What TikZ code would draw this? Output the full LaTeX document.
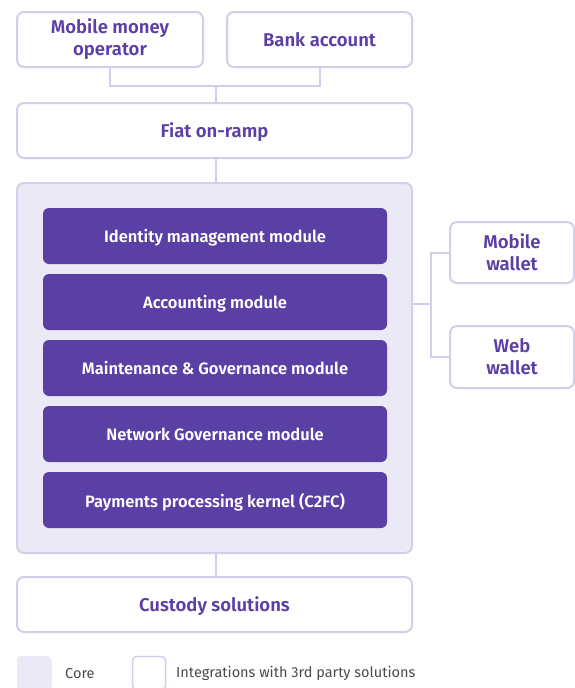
\documentclass[tikz,border=0pt]{standalone}
\usepackage{fontspec}
\setmainfont{Fira Sans}[BoldFont={Fira Sans SemiBold}]
\definecolor{bordc}{HTML}{D3CEEA}
\definecolor{corefill}{HTML}{ECE9F6}
\definecolor{modfill}{HTML}{5A3FA5}
\definecolor{txtc}{HTML}{5B3FA6}
\definecolor{legtxt}{HTML}{4A4A4A}
\begin{document}
\begin{tikzpicture}[x=1pt,y=-1pt,
  wbox/.style={draw=bordc,line width=2pt,fill=white,rounded corners=7pt,align=center,text=txtc,font=\fontsize{18.5}{22}\selectfont\bfseries,inner sep=0pt},
  oneline/.style={text depth=0pt},
  corebox/.style={draw=bordc,line width=2pt,fill=corefill,rounded corners=7pt,inner sep=0pt},
  modbox/.style={fill=modfill,rounded corners=6pt,text=white,font=\fontsize{16.5}{19}\selectfont\bfseries,minimum width=344pt,minimum height=56pt,inner sep=0pt,text depth=0pt},
  conn/.style={draw=bordc,line width=2pt},
  legtext/.style={text=legtxt,font=\fontsize{14.5}{17}\selectfont,anchor=west,inner sep=0pt}]
\useasboundingbox (0,0) rectangle (575,688);
% top boxes
\node[wbox,minimum width=186pt,minimum height=55pt] (mmo) at (110,39.5) {Mobile money\\operator};
\node[wbox,oneline,minimum width=185pt,minimum height=55pt] (bank) at (319.5,39.5) {Bank account};
\node[wbox,oneline,minimum width=395pt,minimum height=55pt] (fiat) at (214.5,130.5) {Fiat on-ramp};
% core
\node[corebox,minimum width=395pt,minimum height=370pt] (core) at (214.5,368) {};
\node[modbox] (m1) at (215,236) {Identity management module};
\node[modbox] (m2) at (215,302) {Accounting module};
\node[modbox] (m3) at (215,368) {Maintenance \& Governance module};
\node[modbox] (m4) at (215,434) {Network Governance module};
\node[modbox] (m5) at (215,500) {Payments processing kernel (C2FC)};
% custody
\node[wbox,oneline,minimum width=395pt,minimum height=55pt] (cust) at (214.5,604.5) {Custody solutions};
% wallets
\node[wbox,minimum width=124pt,minimum height=61pt] (mw) at (512,252.5) {Mobile\\wallet};
\node[wbox,minimum width=124pt,minimum height=62pt] (ww) at (512,357) {Web\\wallet};
% connectors
\coordinate (j1) at (216,86);
\coordinate (j2) at (431,304);
\draw[conn] (mmo.south) |- (j1) -| (bank.south);
\draw[conn] (j1) -- (fiat.north -| j1);
\draw[conn] (fiat.south -| j1) -- (core.north -| j1);
\draw[conn] (core.south -| j1) -- (cust.north -| j1);
\draw[conn] (core.east |- j2) -- (j2);
\draw[conn] (mw.west) -| (j2) |- (ww.west);
% legend
\node[corebox,minimum width=34pt,minimum height=34pt,rounded corners=4pt,line width=0pt,draw=corefill] (lc) at (34,673) {};
\node[legtext] (lct) at (65,673) {Core};
\node[draw=bordc,line width=1.5pt,fill=white,rounded corners=4pt,minimum width=33pt,minimum height=33pt,inner sep=0pt] (lw) at (149,673) {};
\node[legtext] (lwt) at (176,673) {Integrations with 3rd party solutions};
\end{tikzpicture}
\end{document}
